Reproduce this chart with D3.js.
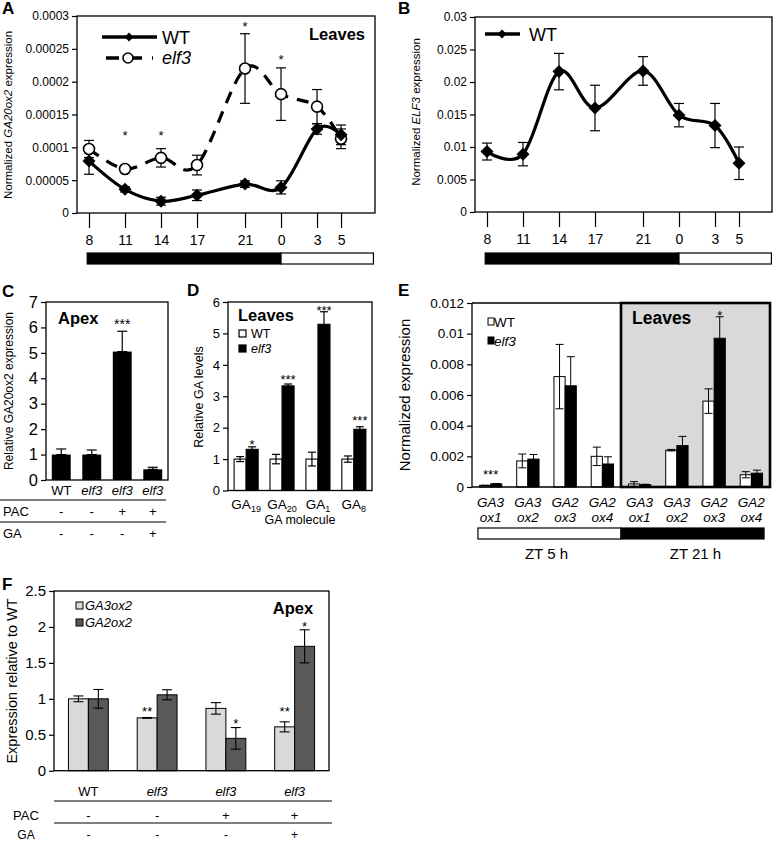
<!DOCTYPE html>
<html><head><meta charset="utf-8">
<script src="https://cdn.jsdelivr.net/npm/d3@7"></script>
<style>
body{margin:0;background:#fff}
svg{display:block}
text{font-family:"Liberation Sans",Arial,Helvetica,sans-serif;fill:#000}
</style>
</head><body>
<svg id="c" width="774" height="843"></svg>
<script>
// ================= DATA =================
// Panel A: GA20ox2 in leaves over time
const hoursA = [8, 11, 14, 17, 21, 0, 3, 5];
const wtA = [0.000079, 0.000036, 0.000018, 0.000027, 0.000044, 0.000039, 0.000128, 0.000119];
const wtAErr = [0.00002, 0.000004, 0.000006, 0.000008, 0.000005, 0.00001, 0.000008, 0.000015];
const elfA = [0.0000975, 0.000067, 0.000084, 0.000073, 0.00022, 0.000181, 0.000162, 0.000113];
const elfAErr = [0.000013, 0.000002, 0.000014, 0.000015, 0.000053, 0.00004, 0.000026, 0.000015];
const starsA = ["", "*", "*", "", "*", "*", "", ""];
const starLevelA = [0, 0.000123, 0.000123, 0, 0.000288, 0.000238, 0, 0];
const tickValsA = [0, 0.00005, 0.0001, 0.00015, 0.0002, 0.00025, 0.0003];
const tickLabsA = ["0", "0.00005", "0.0001", "0.00015", "0.0002", "0.00025", "0.0003"];
const lightDark = [7.85, 24, 31.7]; // dark from first to second, light to third (hours)

// Panel B: ELF3 in WT
const wtB = [0.0093, 0.0089, 0.0216, 0.016, 0.0217, 0.0149, 0.0133, 0.0075];
const wtBErr = [0.0013, 0.0018, 0.0028, 0.0035, 0.0022, 0.0018, 0.0034, 0.0025];
const tickValsB = [0, 0.005, 0.01, 0.015, 0.02, 0.025, 0.03];
const tickLabsB = ["0", "0.005", "0.01", "0.015", "0.02", "0.025", "0.03"];

// Panel C: apex GA20ox2
const groupsC = ["WT", "elf3", "elf3", "elf3"];
const valsC = [1.0, 1.0, 5.05, 0.42];
const errC = [0.22, 0.18, 0.8, 0.08];
const starsC = ["", "", "***", ""];
const starLevelC = [0, 0, 6.24, 0];
const pacC = ["-", "-", "+", "+"];
const gaC = ["-", "-", "-", "+"];
const tickValsC = [0, 1, 2, 3, 4, 5, 6, 7];

// Panel D: GA levels
const moleculesD = ["19", "20", "1", "8"];
const wtD = [1, 1, 1, 1];
const wtDErr = [0.08, 0.15, 0.22, 0.1];
const elfD = [1.31, 3.33, 5.29, 1.95];
const elfDErr = [0.08, 0.06, 0.4, 0.08];
const starsD = ["*", "***", "***", "***"];
const starLevelD = [1.56, 3.62, 5.84, 2.31];
const tickValsD = [0, 1, 2, 3, 4, 5, 6];

// Panel E: GA oxidases in leaves
const genesE = [["GA3", "ox1"], ["GA3", "ox2"], ["GA2", "ox3"], ["GA2", "ox4"], ["GA3", "ox1"], ["GA3", "ox2"], ["GA2", "ox3"], ["GA2", "ox4"]];
const wtE = [0.0001, 0.0017, 0.0072, 0.002, 0.0002, 0.0024, 0.0056, 0.0008];
const wtEErr = [0.00002, 0.00045, 0.0021, 0.0006, 0.00015, 0.00005, 0.0008, 0.0002];
const elfE = [0.0002, 0.00182, 0.0066, 0.0015, 0.00015, 0.0027, 0.0097, 0.0009];
const elfEErr = [0.00003, 0.0003, 0.0019, 0.00047, 0.00003, 0.0006, 0.0014, 0.0002];
const starsE = ["***", "", "", "", "", "", "*", ""];
const starLevelE = [0.00104, 0, 0, 0, 0, 0, 0.0114, 0];
const timesE = ["ZT 5 h", "ZT 21 h"];
const tickValsE = [0, 0.002, 0.004, 0.006, 0.008, 0.01, 0.012];
const tickLabsE = ["0", "0.002", "0.004", "0.006", "0.008", "0.01", "0.012"];

// Panel F: apex GA3ox2 / GA2ox2
const groupsF = ["WT", "elf3", "elf3", "elf3"];
const ga3F = [1.0, 0.735, 0.867, 0.61];
const ga3FErr = [0.04, 0.005, 0.08, 0.07];
const ga2F = [1.0, 1.056, 0.45, 1.73];
const ga2FErr = [0.13, 0.07, 0.15, 0.23];
const stars3F = ["", "**", "", "**"];
const starLevel3F = [0, 0.87, 0, 0.87];
const stars2F = ["", "", "*", "*"];
const starLevel2F = [0, 0, 0.70, 2.05];
const pacF = ["-", "-", "+", "+"];
const gaF = ["-", "-", "-", "+"];
const tickValsF = [0, 0.5, 1, 1.5, 2, 2.5];
const tickLabsF = ["0", "0.5", "1", "1.5", "2", "2.5"];

// ================= HELPERS =================
const svg = d3.select("#c");
function txt(x, y, s, o = {}) {
  return svg.append("text").attr("x", x).attr("y", y).attr("font-size", o.fs || 13)
    .attr("text-anchor", o.anchor || "start")
    .attr("font-weight", o.bold ? "bold" : null)
    .attr("font-style", o.italic ? "italic" : null).text(s);
}
function rotLabel(x, yc, parts, fs) {
  const t = svg.append("text").attr("transform", `translate(${x},${yc}) rotate(-90)`)
    .attr("text-anchor", "middle").attr("font-size", fs);
  parts.forEach(([s, it]) => t.append("tspan").attr("font-style", it ? "italic" : "normal").text(s));
}
function frame(x0, y0, x1, y1, sw = 1.3) {
  svg.append("rect").attr("x", x0).attr("y", y0).attr("width", x1 - x0).attr("height", y1 - y0)
    .attr("fill", "none").attr("stroke", "#000").attr("stroke-width", sw);
}
function yAxis(scale, x0, vals, labs, fs, size = 5) {
  const g = svg.append("g").attr("transform", `translate(${x0},0)`)
    .call(d3.axisLeft(scale).tickValues(vals).tickFormat((d, i) => labs ? labs[i] : d).tickSize(size).tickPadding(3));
  g.select(".domain").remove();
  g.selectAll(".tick line").attr("stroke", "#000").attr("stroke-width", 1.2);
  g.selectAll(".tick text").attr("font-size", fs).attr("fill", "#000");
  return g;
}
function errBar(g, x, yTop, yBot, cap, sw = 1.2) {
  const e = g.append("g").attr("stroke", "#000").attr("stroke-width", sw);
  e.append("line").attr("x1", x).attr("x2", x).attr("y1", yTop).attr("y2", yBot);
  e.append("line").attr("x1", x - cap).attr("x2", x + cap).attr("y1", yTop).attr("y2", yTop);
  e.append("line").attr("x1", x - cap).attr("x2", x + cap).attr("y1", yBot).attr("y2", yBot);
}
function star(x, yc, s, fs) {
  if (!s) return;
  txt(x, yc + 0.58 * fs, s, { fs: fs, anchor: "middle" });
}
const diamond = r => `M0,${-r}L${r},0L0,${r}L${-r},0Z`;
const contH = h => h < 8 ? h + 24 : h;

// ================= PANEL A =================
txt(2, 14, "A", { fs: 17, bold: true });
const xA = d3.scaleLinear().domain([7, 31.83]).range([77, 375]);
const yA = d3.scaleLinear().domain([0, 0.0003]).range([213, 16]);
frame(77, 16, 375, 213);
yAxis(yA, 77, tickValsA, tickLabsA, 12);
rotLabel(12, 115, [["Normalized ", false], ["GA20ox2", true], [" expression", false]], 11.5);
function timeAxis(xs, yBase) {
  const g = svg.append("g").attr("transform", `translate(0,${yBase})`)
    .call(d3.axisBottom(xs).tickValues(hoursA.map(contH)).tickFormat((d, i) => hoursA[i]).tickSize(15).tickPadding(7));
  g.select(".domain").remove();
  g.selectAll(".tick line").attr("stroke", "#000").attr("stroke-width", 1.2);
  g.selectAll(".tick text").attr("font-size", 14).attr("fill", "#000");
}
timeAxis(xA, 213);
function ldBar(xs, y0, h) {
  svg.append("rect").attr("x", xs(lightDark[0])).attr("y", y0).attr("width", xs(lightDark[1]) - xs(lightDark[0])).attr("height", h)
    .attr("fill", "#000").attr("stroke", "#000").attr("stroke-width", 1.2);
  svg.append("rect").attr("x", xs(lightDark[1])).attr("y", y0).attr("width", xs(lightDark[2]) - xs(lightDark[1])).attr("height", h)
    .attr("fill", "#fff").attr("stroke", "#000").attr("stroke-width", 1.2);
}
ldBar(xA, 253, 11);
const ptsWA = hoursA.map((h, i) => ({ x: xA(contH(h)), v: wtA[i], e: wtAErr[i] }));
const ptsEA = hoursA.map((h, i) => ({ x: xA(contH(h)), v: elfA[i], e: elfAErr[i], s: starsA[i], sl: starLevelA[i] }));
const curve = d3.curveCardinal.tension(0);
const lineA = d3.line().x(d => d.x).y(d => yA(d.v)).curve(curve);
svg.append("path").attr("d", lineA(ptsEA)).attr("fill", "none").attr("stroke", "#000").attr("stroke-width", 3.2).attr("stroke-dasharray", "12,9");
svg.append("path").attr("d", lineA(ptsWA)).attr("fill", "none").attr("stroke", "#000").attr("stroke-width", 3.2);
const gEA = svg.append("g");
ptsEA.forEach(p => errBar(gEA, p.x, yA(p.v + p.e), yA(p.v - p.e), 5));
ptsWA.forEach(p => errBar(gEA, p.x, yA(p.v + p.e), yA(p.v - p.e), 5));
ptsEA.forEach(p => svg.append("circle").attr("cx", p.x).attr("cy", yA(p.v)).attr("r", 5.5).attr("fill", "#fff").attr("stroke", "#000").attr("stroke-width", 1.6));
ptsWA.forEach(p => svg.append("path").attr("d", diamond(6.5)).attr("transform", `translate(${p.x},${yA(p.v)})`).attr("fill", "#000"));
ptsEA.forEach(p => star(p.x, yA(p.sl), p.s, 13));
// legend
svg.append("line").attr("x1", 102).attr("x2", 157).attr("y1", 37).attr("y2", 37).attr("stroke", "#000").attr("stroke-width", 3.5);
svg.append("path").attr("d", diamond(4.5)).attr("transform", "translate(129,37)");
txt(162, 43.5, "WT", { fs: 18 });
svg.append("line").attr("x1", 106).attr("x2", 153).attr("y1", 58).attr("y2", 58).attr("stroke", "#000").attr("stroke-width", 3.5).attr("stroke-dasharray", "13,10");
svg.append("circle").attr("cx", 128).attr("cy", 58).attr("r", 5).attr("fill", "#fff").attr("stroke", "#000").attr("stroke-width", 1.6);
txt(162, 64, "elf3", { fs: 18, italic: true });
txt(365, 40, "Leaves", { fs: 16.5, bold: true, anchor: "end" });

// ================= PANEL B =================
txt(398, 14, "B", { fs: 17, bold: true });
const xB = d3.scaleLinear().domain([7, 31.75]).range([475, 772]);
const yB = d3.scaleLinear().domain([0, 0.03]).range([212, 17]);
frame(475, 17, 772, 212);
yAxis(yB, 475, tickValsB, tickLabsB, 12);
rotLabel(420, 112, [["Normalized ", false], ["ELF3", true], [" expression", false]], 11.5);
timeAxis(xB, 212);
ldBar(xB, 253, 11);
const ptsB = hoursA.map((h, i) => ({ x: xB(contH(h)), v: wtB[i], e: wtBErr[i] }));
const lineB = d3.line().x(d => d.x).y(d => yB(d.v)).curve(curve);
svg.append("path").attr("d", lineB(ptsB)).attr("fill", "none").attr("stroke", "#000").attr("stroke-width", 3.2);
const gEB = svg.append("g");
ptsB.forEach(p => errBar(gEB, p.x, yB(p.v + p.e), yB(p.v - p.e), 5));
ptsB.forEach(p => svg.append("path").attr("d", diamond(6.5)).attr("transform", `translate(${p.x},${yB(p.v)})`).attr("fill", "#000"));
svg.append("line").attr("x1", 485).attr("x2", 520).attr("y1", 34).attr("y2", 34).attr("stroke", "#000").attr("stroke-width", 3.5);
svg.append("path").attr("d", diamond(4.5)).attr("transform", "translate(502,34)");
txt(529, 40.5, "WT", { fs: 18 });

// ================= PANEL C =================
txt(2, 297, "C", { fs: 17, bold: true });
const xC = d3.scaleBand().domain(d3.range(groupsC.length)).range([46, 168]).paddingInner(0.38).paddingOuter(0.19);
const yC = d3.scaleLinear().domain([0, 7]).range([480, 302]);
const bwC = xC.bandwidth();
valsC.forEach((v, i) => {
  svg.append("rect").attr("x", xC(i)).attr("y", yC(v)).attr("width", bwC).attr("height", yC(0) - yC(v)).attr("fill", "#000");
});
const gEC = svg.append("g");
valsC.forEach((v, i) => errBar(gEC, xC(i) + bwC / 2, yC(v + errC[i]), yC(v), 5));
valsC.forEach((v, i) => star(xC(i) + bwC / 2, yC(starLevelC[i]), starsC[i], 14));
frame(46, 302, 168, 480);
yAxis(yC, 46, tickValsC, null, 16.5);
rotLabel(13, 391, [["Relative ", false], ["GA20ox2", false], [" expression", false]], 12);
txt(58, 324, "Apex", { fs: 16.5, bold: true });
groupsC.forEach((g, i) => txt(xC(i) + bwC / 2, 495, g, { fs: 13, anchor: "middle", italic: g !== "WT" }));
svg.append("line").attr("x1", 0).attr("x2", 166).attr("y1", 500).attr("y2", 500).attr("stroke", "#000").attr("stroke-width", 1);
svg.append("line").attr("x1", 0).attr("x2", 166).attr("y1", 522).attr("y2", 522).attr("stroke", "#000").attr("stroke-width", 1);
txt(3, 516, "PAC", { fs: 13 });
txt(3, 538, "GA", { fs: 13 });
pacC.forEach((s, i) => txt(xC(i) + bwC / 2, 516, s, { fs: 13, anchor: "middle" }));
gaC.forEach((s, i) => txt(xC(i) + bwC / 2, 538, s, { fs: 13, anchor: "middle" }));

// ================= PANEL D =================
txt(187, 296, "D", { fs: 17, bold: true });
const xD = d3.scaleBand().domain(d3.range(moleculesD.length)).range([228, 372]).paddingInner(0.33).paddingOuter(0.17);
const subD = d3.scaleBand().domain([0, 1]).range([0, xD.bandwidth()]);
const yD = d3.scaleLinear().domain([0, 6]).range([490.5, 302]);
const gD = svg.append("g");
moleculesD.forEach((m, i) => {
  const x0 = xD(i), w = subD.bandwidth();
  gD.append("rect").attr("x", x0 + subD(0)).attr("y", yD(wtD[i])).attr("width", w).attr("height", yD(0) - yD(wtD[i])).attr("fill", "#fff").attr("stroke", "#000").attr("stroke-width", 1.1);
  gD.append("rect").attr("x", x0 + subD(1)).attr("y", yD(elfD[i])).attr("width", w).attr("height", yD(0) - yD(elfD[i])).attr("fill", "#000").attr("stroke", "#000").attr("stroke-width", 1.1);
  errBar(gD, x0 + subD(0) + w / 2, yD(wtD[i] + wtDErr[i]), yD(wtD[i] - wtDErr[i]), 4);
  errBar(gD, x0 + subD(1) + w / 2, yD(elfD[i] + elfDErr[i]), yD(elfD[i] - elfDErr[i]), 4);
  star(x0 + subD(1) + w / 2, yD(starLevelD[i]), starsD[i], 13);
  const t = txt(x0 + xD.bandwidth() / 2, 509, "GA", { fs: 13.5, anchor: "middle" });
  t.append("tspan").attr("font-size", 9).attr("dy", 3).text(m);
});
frame(228, 302, 372, 490.5);
yAxis(yD, 228, tickValsD, null, 13);
rotLabel(203, 397, [["Relative GA levels", false]], 12.5);
txt(300, 524, "GA molecule", { fs: 12.5, anchor: "middle" });
txt(238, 321, "Leaves", { fs: 16.5, bold: true });
svg.append("rect").attr("x", 239).attr("y", 330).attr("width", 7).attr("height", 7).attr("fill", "#fff").attr("stroke", "#000").attr("stroke-width", 1.2);
txt(251, 338, "WT", { fs: 12.5 });
svg.append("rect").attr("x", 239).attr("y", 345).attr("width", 7).attr("height", 7).attr("fill", "#000").attr("stroke", "#000").attr("stroke-width", 1.2);
txt(251, 353, "elf3", { fs: 12.5, italic: true });

// ================= PANEL E =================
txt(398, 296, "E", { fs: 17, bold: true });
const xE = d3.scaleBand().domain(d3.range(genesE.length)).range([472, 770]).paddingInner(0.4).paddingOuter(0.2);
const subE = d3.scaleBand().domain([0, 1]).range([0, xE.bandwidth()]);
const yE = d3.scaleLinear().domain([0, 0.012]).range([487, 303]);
const grayX0 = (xE(3) + xE.bandwidth() + xE(4)) / 2;
svg.append("rect").attr("x", grayX0).attr("y", 303).attr("width", 770 - grayX0).attr("height", 487 - 303).attr("fill", "#d9d9d9");
const gE = svg.append("g");
genesE.forEach((g, i) => {
  const x0 = xE(i), w = subE.bandwidth();
  gE.append("rect").attr("x", x0 + subE(0)).attr("y", yE(wtE[i])).attr("width", w).attr("height", yE(0) - yE(wtE[i])).attr("fill", "#fff").attr("stroke", "#000").attr("stroke-width", 1);
  gE.append("rect").attr("x", x0 + subE(1)).attr("y", yE(elfE[i])).attr("width", w).attr("height", yE(0) - yE(elfE[i])).attr("fill", "#000").attr("stroke", "#000").attr("stroke-width", 1);
  errBar(gE, x0 + subE(0) + w / 2, yE(wtE[i] + wtEErr[i]), yE(Math.max(0, wtE[i] - wtEErr[i])), 4, 1);
  errBar(gE, x0 + subE(1) + w / 2, yE(elfE[i] + elfEErr[i]), yE(Math.max(0, elfE[i] - elfEErr[i])), 4, 1);
  star(x0 + xE.bandwidth() / 2 + (i === 6 ? w / 2 : 0), yE(starLevelE[i]), starsE[i], 13);
  txt(x0 + xE.bandwidth() / 2, 507, g[0], { fs: 13.5, anchor: "middle", italic: true });
  txt(x0 + xE.bandwidth() / 2, 522, g[1], { fs: 13.5, anchor: "middle", italic: true });
});
svg.append("line").attr("x1", 472).attr("x2", 770).attr("y1", 303).attr("y2", 303).attr("stroke", "#000").attr("stroke-width", 1.3);
svg.append("line").attr("x1", 472).attr("x2", 770).attr("y1", 487).attr("y2", 487).attr("stroke", "#000").attr("stroke-width", 1.6);
svg.append("line").attr("x1", 472).attr("x2", 472).attr("y1", 303).attr("y2", 487).attr("stroke", "#000").attr("stroke-width", 1.3);
svg.append("rect").attr("x", grayX0).attr("y", 303).attr("width", 770 - grayX0).attr("height", 487 - 303).attr("fill", "none").attr("stroke", "#000").attr("stroke-width", 2.6);
yAxis(yE, 472, tickValsE, tickLabsE, 13.5);
rotLabel(410, 395, [["Normalized expression", false]], 15);
txt(632, 324, "Leaves", { fs: 17.5, bold: true });
svg.append("rect").attr("x", 488).attr("y", 318).attr("width", 6).attr("height", 7).attr("fill", "#fff").attr("stroke", "#000").attr("stroke-width", 1);
txt(494, 327, "WT", { fs: 13.5 });
svg.append("rect").attr("x", 488).attr("y", 337).attr("width", 6).attr("height", 7).attr("fill", "#000").attr("stroke", "#000").attr("stroke-width", 1);
txt(494, 346, "elf3", { fs: 13.5, italic: true });
const barE0 = xE(0) - 1.5, barE1 = xE(7) + xE.bandwidth() + 1.5;
svg.append("rect").attr("x", barE0).attr("y", 528).attr("width", grayX0 - barE0).attr("height", 11).attr("fill", "#fff").attr("stroke", "#000").attr("stroke-width", 1.2);
svg.append("rect").attr("x", grayX0).attr("y", 528).attr("width", barE1 - grayX0).attr("height", 11).attr("fill", "#000").attr("stroke", "#000").attr("stroke-width", 1.2);
txt((xE(0) + xE(3) + xE.bandwidth()) / 2, 559, timesE[0], { fs: 15, anchor: "middle" });
txt((xE(4) + xE(7) + xE.bandwidth()) / 2, 559, timesE[1], { fs: 15, anchor: "middle" });

// ================= PANEL F =================
txt(2, 590, "F", { fs: 17, bold: true });
const xF = d3.scaleBand().domain(d3.range(groupsF.length)).range([54, 329]).paddingInner(0.42).paddingOuter(0.21);
const subF = d3.scaleBand().domain([0, 1]).range([0, xF.bandwidth()]);
const yF = d3.scaleLinear().domain([0, 2.5]).range([770.7, 591]);
const gF = svg.append("g");
groupsF.forEach((g, i) => {
  const x0 = xF(i), w = subF.bandwidth();
  gF.append("rect").attr("x", x0 + subF(0)).attr("y", yF(ga3F[i])).attr("width", w).attr("height", yF(0) - yF(ga3F[i])).attr("fill", "#d9d9d9").attr("stroke", "#000").attr("stroke-width", 1);
  gF.append("rect").attr("x", x0 + subF(1)).attr("y", yF(ga2F[i])).attr("width", w).attr("height", yF(0) - yF(ga2F[i])).attr("fill", "#595959").attr("stroke", "#000").attr("stroke-width", 1);
  errBar(gF, x0 + subF(0) + w / 2, yF(ga3F[i] + ga3FErr[i]), yF(ga3F[i] - ga3FErr[i]), 5, 1.1);
  errBar(gF, x0 + subF(1) + w / 2, yF(ga2F[i] + ga2FErr[i]), yF(ga2F[i] - ga2FErr[i]), 5, 1.1);
  star(x0 + subF(0) + w / 2, yF(starLevel3F[i]), stars3F[i], 13);
  star(x0 + subF(1) + w / 2, yF(starLevel2F[i]), stars2F[i], 13);
  txt(x0 + xF.bandwidth() / 2, 796, g, { fs: 13, anchor: "middle", italic: g !== "WT" });
  txt(x0 + xF.bandwidth() / 2, 820, pacF[i], { fs: 13, anchor: "middle" });
  txt(x0 + xF.bandwidth() / 2, 839, gaF[i], { fs: 12, anchor: "middle" });
});
frame(54, 591, 329, 770.7);
yAxis(yF, 54, tickValsF, tickLabsF, 15);
rotLabel(17, 681, [["Expression relative to WT", false]], 14.5);
svg.append("rect").attr("x", 76).attr("y", 602).attr("width", 7).attr("height", 7).attr("fill", "#d9d9d9").attr("stroke", "#000").attr("stroke-width", 1);
txt(85, 610, "GA3ox2", { fs: 13, italic: true });
svg.append("rect").attr("x", 76).attr("y", 619).attr("width", 7).attr("height", 7).attr("fill", "#595959").attr("stroke", "#000").attr("stroke-width", 1);
txt(85, 627, "GA2ox2", { fs: 13, italic: true });
txt(293, 614, "Apex", { fs: 16.5, bold: true, anchor: "middle" });
svg.append("line").attr("x1", 54).attr("x2", 332).attr("y1", 801).attr("y2", 801).attr("stroke", "#000").attr("stroke-width", 1);
svg.append("line").attr("x1", 54).attr("x2", 332).attr("y1", 823).attr("y2", 823).attr("stroke", "#000").attr("stroke-width", 1);
txt(26, 820, "PAC", { fs: 13, anchor: "middle" });
txt(26, 839, "GA", { fs: 12, anchor: "middle" });
</script>
</body></html>
